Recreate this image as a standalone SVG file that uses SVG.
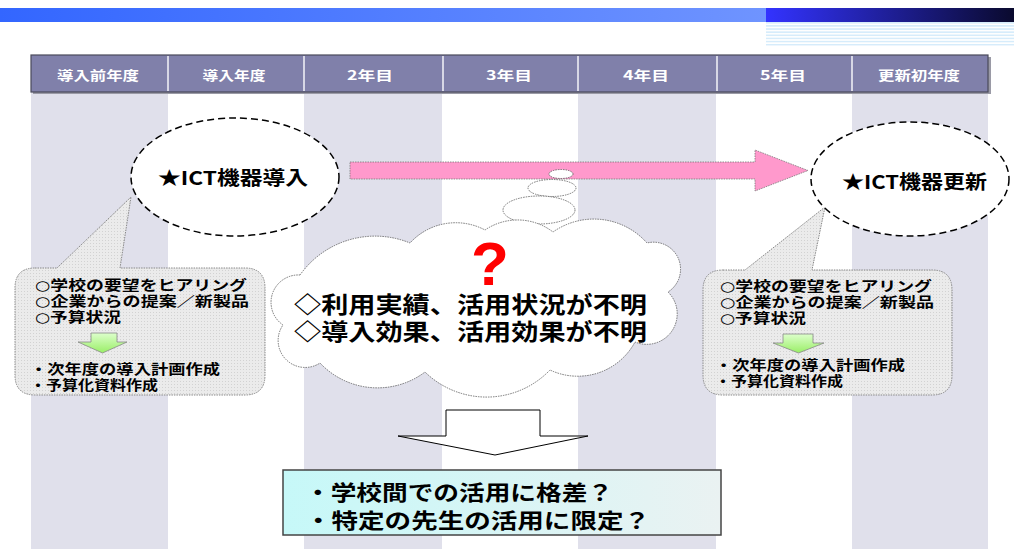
<svg xmlns="http://www.w3.org/2000/svg" width="1014" height="549" viewBox="0 0 1014 549">
<defs>
<linearGradient id="barL" x1="0" y1="0" x2="1" y2="0"><stop offset="0" stop-color="#3366ff"/><stop offset="1" stop-color="#6f94ff"/></linearGradient>
<linearGradient id="barR" x1="0" y1="0" x2="1" y2="0"><stop offset="0" stop-color="#3333ff"/><stop offset="1" stop-color="#0a0a2e"/></linearGradient>
<pattern id="stripes" x="0" y="22" width="8" height="3.125" patternUnits="userSpaceOnUse"><rect width="8" height="3.125" fill="#ffffff"/><rect width="8" height="1.6" fill="#d6ecfb"/></pattern>
<pattern id="dots" width="3" height="3" patternUnits="userSpaceOnUse"><rect width="3" height="3" fill="#ebebeb"/><rect width="1" height="1" fill="#d2d2d2"/></pattern>
<linearGradient id="green" x1="0" y1="0" x2="0" y2="1"><stop offset="0" stop-color="#ddffcc"/><stop offset="1" stop-color="#99ee66"/></linearGradient>
<linearGradient id="cyan" x1="0" y1="0" x2="1" y2="0"><stop offset="0" stop-color="#c6f8f8"/><stop offset="1" stop-color="#eaf2f2"/></linearGradient>
<style>
.t{font-family:"Noto Sans CJK JP","Liberation Sans",sans-serif;font-weight:bold;fill:#000}
.m{font-family:"Liberation Sans","Noto Sans CJK JP",sans-serif;font-weight:bold;fill:#000}
.c{font-size:13.8px}
.o{font-family:"DejaVu Sans",sans-serif;font-size:13.5px}
.hd{font-size:13px;fill:#fff;text-anchor:middle}
.ell{fill:#fff;stroke:#000;stroke-width:1.5;stroke-dasharray:7 4}
.call{fill:url(#dots);stroke:#888;stroke-width:1;stroke-dasharray:1.5 1}
.cl{fill:#fff;stroke:#555;stroke-width:0.8;stroke-dasharray:1.5 1}
.ga{fill:url(#green);stroke:#888;stroke-width:0.8}
.col{fill:#e0e0eb}
</style>
</defs>
<rect width="1014" height="549" fill="#fff"/>
<g id="topbar">
<rect x="0" y="8" width="766" height="14" fill="url(#barL)"/>
<rect x="766" y="8" width="248" height="14" fill="url(#barR)"/>
<rect x="766" y="22" width="248" height="25" fill="url(#stripes)"/>
</g>
<g id="columns">
<rect class="col" x="31" y="92" width="137" height="457"/>
<rect class="col" x="304" y="92" width="138" height="457"/>
<rect class="col" x="578" y="92" width="138" height="457"/>
<rect class="col" x="852" y="92" width="136" height="457"/>
</g>
<g id="header">
<rect x="33" y="57" width="958" height="37" fill="#9a9aa6"/>
<rect x="31" y="55" width="957" height="37" fill="#8080aa" stroke="#4a4a5a" stroke-width="1.2"/>
<g stroke="#f4f4f8" stroke-width="1.5">
<line x1="168" y1="56" x2="168" y2="91"/><line x1="304" y1="56" x2="304" y2="91"/><line x1="443" y1="56" x2="443" y2="91"/>
<line x1="578" y1="56" x2="578" y2="91"/><line x1="717" y1="56" x2="717" y2="91"/><line x1="852" y1="56" x2="852" y2="91"/>
</g>
<text class="t hd" x="98" y="80" textLength="82" lengthAdjust="spacingAndGlyphs">導入前年度</text>
<text class="t hd" x="234" y="80" textLength="63" lengthAdjust="spacingAndGlyphs">導入年度</text>
<text class="t hd" x="370" y="80" textLength="46" lengthAdjust="spacingAndGlyphs">2年目</text>
<text class="t hd" x="509" y="80" textLength="46" lengthAdjust="spacingAndGlyphs">3年目</text>
<text class="t hd" x="646" y="80" textLength="46" lengthAdjust="spacingAndGlyphs">4年目</text>
<text class="t hd" x="783" y="80" textLength="46" lengthAdjust="spacingAndGlyphs">5年目</text>
<text class="t hd" x="919" y="80" textLength="82" lengthAdjust="spacingAndGlyphs">更新初年度</text>
</g>
<g id="callout-left">
<path class="call" d="M35,268 L57,268 L131,197 L120,268 L245,268 Q265,268 265,288 L265,375 Q265,395 245,395 L35,395 Q15,395 15,375 L15,288 Q15,268 35,268 Z"/>
<text class="m c" x="35" y="290" textLength="212" lengthAdjust="spacingAndGlyphs"><tspan class="o">○</tspan>学校の要望をヒアリング</text>
<text class="m c" x="35" y="306" textLength="214" lengthAdjust="spacingAndGlyphs"><tspan class="o">○</tspan>企業からの提案／新製品</text>
<text class="m c" x="35" y="322" textLength="86" lengthAdjust="spacingAndGlyphs"><tspan class="o">○</tspan>予算状況</text>
<text class="m c" x="30" y="374" textLength="190" lengthAdjust="spacingAndGlyphs">・次年度の導入計画作成</text>
<text class="m c" x="30" y="390" textLength="128" lengthAdjust="spacingAndGlyphs">・予算化資料作成</text>
</g>
<g id="callout-right">
<path class="call" d="M723,270 L745,270 L825,207 L812,270 L932,270 Q952,270 952,290 L952,375 Q952,395 932,395 L723,395 Q703,395 703,375 L703,290 Q703,270 723,270 Z"/>
<text class="m c" x="720" y="291" textLength="212" lengthAdjust="spacingAndGlyphs"><tspan class="o">○</tspan>学校の要望をヒアリング</text>
<text class="m c" x="720" y="307" textLength="214" lengthAdjust="spacingAndGlyphs"><tspan class="o">○</tspan>企業からの提案／新製品</text>
<text class="m c" x="720" y="323" textLength="86" lengthAdjust="spacingAndGlyphs"><tspan class="o">○</tspan>予算状況</text>
<text class="m c" x="715" y="370" textLength="190" lengthAdjust="spacingAndGlyphs">・次年度の導入計画作成</text>
<text class="m c" x="715" y="386" textLength="128" lengthAdjust="spacingAndGlyphs">・予算化資料作成</text>
</g>
<g id="node-intro">
<ellipse class="ell" cx="235" cy="177" rx="104" ry="59"/>
<text class="t" x="158" y="185" font-size="19" textLength="150" lengthAdjust="spacingAndGlyphs">★ICT機器導入</text>
</g>
<g id="node-renew">
<ellipse class="ell" cx="910" cy="179" rx="99" ry="57"/>
<text class="t" x="842" y="189" font-size="19" textLength="145" lengthAdjust="spacingAndGlyphs">★ICT機器更新</text>
</g>
<g id="connectors">
<path d="M350,162 L755,162 L755,150 L808,170.5 L755,191 L755,179 L350,179 Z" fill="#ff99cc" stroke="#777" stroke-width="0.8" stroke-dasharray="1.5 1"/>
<path class="ga" d="M91,333 L117,333 L117,342 L127,342 L102.5,353 L78,342 L91,342 Z"/>
<path class="ga" d="M783,334 L813,334 L813,343 L824,343 L798.5,353 L773,343 L783,343 Z"/>
<path d="M446,410 L540,410 L540,436 L588,436 L495,455 L398,436 L446,436 Z" fill="#fff" stroke="#000" stroke-width="1"/>
</g>
<g id="node-cloud">
<ellipse class="cl" cx="561" cy="174" rx="12" ry="4.5"/>
<ellipse class="cl" cx="552" cy="188" rx="24" ry="8.5"/>
<ellipse class="cl" cx="539" cy="210" rx="36" ry="14"/>
<path class="cl" d="M300,275 A92,92 0 0,1 410,243 A62,62 0 0,1 485,230 A58,58 0 0,1 553,232 A71,71 0 0,1 647,243 A27,27 0 0,1 668,292 A30.5,30.5 0 0,1 635,342 A65,65 0 0,1 550,370 A88,88 0 0,1 425,372 A79,79 0 0,1 320,363 A27,27 0 0,1 283,325 A27.4,27.4 0 0,1 300,275 Z"/>
<text x="490" y="285" font-family="Liberation Sans, sans-serif" font-weight="bold" font-size="62" fill="#ff0000" text-anchor="middle">?</text>
<text class="m" x="294" y="313" font-size="23" textLength="353" lengthAdjust="spacingAndGlyphs">◇利用実績、活用状況が不明</text>
<text class="m" x="294" y="340" font-size="23" textLength="353" lengthAdjust="spacingAndGlyphs">◇導入効果、活用効果が不明</text>
</g>
<g id="node-result">
<rect x="283" y="470" width="438" height="65" fill="url(#cyan)" stroke="#444" stroke-width="1.5"/>
<text class="m" x="305" y="500" font-size="21" textLength="308" lengthAdjust="spacingAndGlyphs">・学校間での活用に格差？</text>
<text class="m" x="305" y="528" font-size="21" textLength="345" lengthAdjust="spacingAndGlyphs">・特定の先生の活用に限定？</text>
</g>
</svg>
